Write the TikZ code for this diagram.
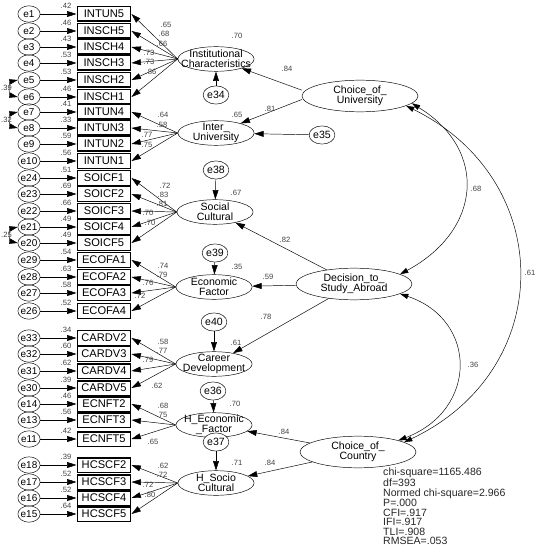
\documentclass[tikz,border=0pt]{standalone}
\usepackage{fontspec}
\setmainfont{Liberation Sans}
\usetikzlibrary{arrows.meta,shapes.geometric}

\tikzset{
	pfeil/.style={-{Triangle[length=8pt,width=5pt]}},
	kov/.style={{Triangle[length=7pt,width=4.5pt]}-{Triangle[length=7pt,width=4.5pt]}},
	err/.style={draw, ellipse, minimum width=19pt, minimum height=14pt, inner sep=-4pt, font=\fontsize{8.5}{9}\selectfont},
	res/.style={draw, ellipse, fill=white, minimum width=22pt, minimum height=15.5pt, inner sep=-4pt, font=\fontsize{9}{9}\selectfont},
	ind/.style={draw, line width=0.9pt, minimum width=46pt, minimum height=12pt, inner sep=0pt, font=\fontsize{9.5}{9}\selectfont},
	lat/.style={draw, ellipse, minimum width=65pt, minimum height=21pt, inner sep=-12pt, align=center, font=\fontsize{9}{8.5}\selectfont},
	biglat/.style={draw, ellipse, minimum width=99pt, minimum height=27pt, inner sep=-12pt, align=center, font=\fontsize{9}{8.5}\selectfont},
	num/.style={inner sep=0pt, text=black!75, font=\fontsize{6.5}{6.5}\selectfont},
	fitstat/.style={inner sep=0pt, align=left, text=black!85, font=\fontsize{9}{8}\selectfont},
}

\begin{document}
\begin{tikzpicture}[x=0.03cm, y=0.03cm]
	\useasboundingbox (0,0) rectangle (538,-545);
	
	% latente Variablen
	\node[lat] (inst) at (216,-59) {Institutional\\Characteristics};
	\node[lat] (inter) at (216,-133) {Inter\_\\University};
	\node[lat] (soc) at (215,-212) {Social\\Cultural};
	\node[lat] (eco) at (214,-287) {Economic\\Factor};
	\node[lat] (car) at (214,-364) {Career\\Development};
	\node[lat] (heco) at (214,-425) {H\_Economic\\\_Factor};
	\node[lat] (hsoc) at (216,-483) {H\_Socio\\Cultural};
	\node[biglat] (cou) at (360,-96) {Choice\_of\_\\University};
	\node[biglat] (dec) at (354,-284) {Decision\_to\_\\Study\_Abroad};
	\node[biglat] (coc) at (358,-452) {Choice\_of\_\\Country};
	
	% Indikatoren mit Fehlern
	\foreach \ee/\bx/\yy/\rr in {e1/INTUN5/14/.42, e2/INSCH5/31/.46, e3/INSCH4/47/.43, e4/INSCH3/63/.53, e5/INSCH2/80/.53, e6/INSCH1/97/.46,
		e7/INTUN4/112/.41, e8/INTUN3/128/.33, e9/INTUN2/144/.59, e10/INTUN1/161/.56,
		e24/SOICF1/178/.51, e23/SOICF2/194/.69, e22/SOICF3/211/.66, e21/SOICF4/227/.49, e20/SOICF5/243/.49,
		e29/ECOFA1/260/.54, e28/ECOFA2/277/.63, e27/ECOFA3/293/.58, e26/ECOFA4/311/.52,
		e33/CARDV2/338/.34, e32/CARDV3/354/.60, e31/CARDV4/371/.62, e30/CARDV5/388/.39,
		e14/ECNFT2/404/.46, e13/ECNFT3/420/.56, e11/ECNFT5/439/.42,
		e18/HCSCF2/465/.39, e17/HCSCF3/482/.52, e16/HCSCF4/498/.52, e15/HCSCF5/514/.64} {
		\node[err] (\ee) at (29,-\yy) {\ee};
		\node[ind] (\bx) at (104,-\yy) {\bx};
		\draw[pfeil] (\ee) -- (\bx);
		\node[num] (r\bx) at (66,{8-\yy}) {\rr};
	}
	
	% Ladungen
	\foreach \bx/\ll/\lx/\ly in {INTUN5/.65/166/25, INSCH5/.68/164/34, INSCH4/.66/162/44, INSCH3/.73/149/53, INSCH2/.73/149/62, INSCH1/.86/151/72} {
		\draw[pfeil] (inst.west) -- (\bx.east);
		\node[num] (l\bx) at (\lx,-\ly) {\ll};
	}
	\foreach \bx/\ll/\lx/\ly in {INTUN4/.64/163/115, INTUN3/.58/162/125, INTUN2/.77/147/135, INTUN1/.75/147/145} {
		\draw[pfeil] (inter.west) -- (\bx.east);
		\node[num] (l\bx) at (\lx,-\ly) {\ll};
	}
	\foreach \bx/\ll/\lx/\ly in {SOICF1/.72/165/186, SOICF2/.83/163/195, SOICF3/.81/162/204, SOICF4/.70/148/213, SOICF5/.70/150/223} {
		\draw[pfeil] (soc.west) -- (\bx.east);
		\node[num] (l\bx) at (\lx,-\ly) {\ll};
	}
	\foreach \bx/\ll/\lx/\ly in {ECOFA1/.74/163/266, ECOFA2/.79/162/275, ECOFA3/.76/148/283, ECOFA4/.72/140/296} {
		\draw[pfeil] (eco.west) -- (\bx.east);
		\node[num] (l\bx) at (\lx,-\ly) {\ll};
	}
	\foreach \bx/\ll/\lx/\ly in {CARDV2/.58/163/342, CARDV3/.77/162/351, CARDV4/.79/148/360, CARDV5/.62/157/386} {
		\draw[pfeil] (car.west) -- (\bx.east);
		\node[num] (l\bx) at (\lx,-\ly) {\ll};
	}
	\foreach \bx/\ll/\lx/\ly in {ECNFT2/.68/163/406, ECNFT3/.75/162/415, ECNFT5/.65/153/442} {
		\draw[pfeil] (heco.west) -- (\bx.east);
		\node[num] (l\bx) at (\lx,-\ly) {\ll};
	}
	\foreach \bx/\ll/\lx/\ly in {HCSCF2/.62/163/466, HCSCF3/.72/162/475, HCSCF4/.72/148/485, HCSCF5/.80/150/495} {
		\draw[pfeil] (hsoc.west) -- (\bx.east);
		\node[num] (l\bx) at (\lx,-\ly) {\ll};
	}
	
	% Fehlerkovarianzen links
	\draw[kov] (e5.west) .. controls (9,-82) and (9,-95) .. (e6.west);
	\draw[kov] (e7.west) .. controls (9,-114) and (9,-126) .. (e8.west);
	\draw[kov] (e21.west) .. controls (9,-229) and (9,-241) .. (e20.west);
	\node[num] (c56) at (6.5,-88) {.39};
	\node[num] (c78) at (6.5,-120) {.32};
	\node[num] (c2120) at (6.5,-235) {.25};
	
	% Residuen
	\node[res] (e34) at (216,-95) {e34};
	\node[res] (e35) at (322,-135) {e35};
	\node[res] (e38) at (216,-170) {e38};
	\node[res] (e39) at (215,-253) {e39};
	\node[res] (e40) at (214,-322) {e40};
	\node[res] (e36) at (213,-391) {e36};
	\node[res] (e37) at (216,-442) {e37};
	\draw[pfeil] (e34) -- (inst);
	\draw[pfeil] (e35) -- (inter);
	\draw[pfeil] (e38) -- (soc);
	\draw[pfeil] (e39) -- (eco);
	\draw[pfeil] (e40) -- (car);
	\draw[pfeil] (e36) -- (heco);
	\draw[pfeil] (e37) -- (hsoc);
	
	% R-Quadrat
	\node[num] (rinst) at (237,-36) {.70};
	\node[num] (rinter) at (237,-115) {.65};
	\node[num] (rsoc) at (236,-193) {.67};
	\node[num] (reco) at (237,-267) {.35};
	\node[num] (rcar) at (236,-343) {.61};
	\node[num] (rheco) at (235,-404) {.70};
	\node[num] (rhsoc) at (237,-463) {.71};
	
	% Strukturpfade
	\draw[pfeil] ([yshift=5pt]cou.west) -- (inst);
	\draw[pfeil] ([yshift=-3pt]cou.west) -- (inter);
	\draw[pfeil] (dec) -- (soc);
	\draw[pfeil] (dec) -- (eco);
	\draw[pfeil] (dec) -- (car);
	\draw[pfeil] (coc) -- (heco);
	\draw[pfeil] (coc) -- (hsoc);
	\node[num] (pinst) at (287,-69) {.84};
	\node[num] (pinter) at (270,-109) {.81};
	\node[num] (psoc) at (285,-240) {.82};
	\node[num] (peco) at (268,-277) {.59};
	\node[num] (pcar) at (266,-317) {.78};
	\node[num] (pheco) at (284,-432) {.84};
	\node[num] (phsoc) at (270,-463) {.84};
	
	% Korrelationen rechts
	\draw[kov] (cou.-8) .. controls (488,-150) and (482,-230) .. (dec.12);
	\draw[kov] (cou.-12) .. controls (557,-180) and (557,-370) .. (coc.12);
	\draw[kov] (dec.-12) .. controls (478,-320) and (478,-410) .. (coc.16);
	\node[num] (k1) at (476,-189) {.68};
	\node[num] (k2) at (530,-273) {.61};
	\node[num] (k3) at (473,-365) {.36};
	
	% Modellguete
	\node[fitstat, anchor=north west] (fit) at (383,-468) {chi-square=1165.486\\df=393\\Normed chi-square=2.966\\P=.000\\CFI=.917\\IFI=.917\\TLI=.908\\RMSEA=.053};
\end{tikzpicture}
\end{document}
